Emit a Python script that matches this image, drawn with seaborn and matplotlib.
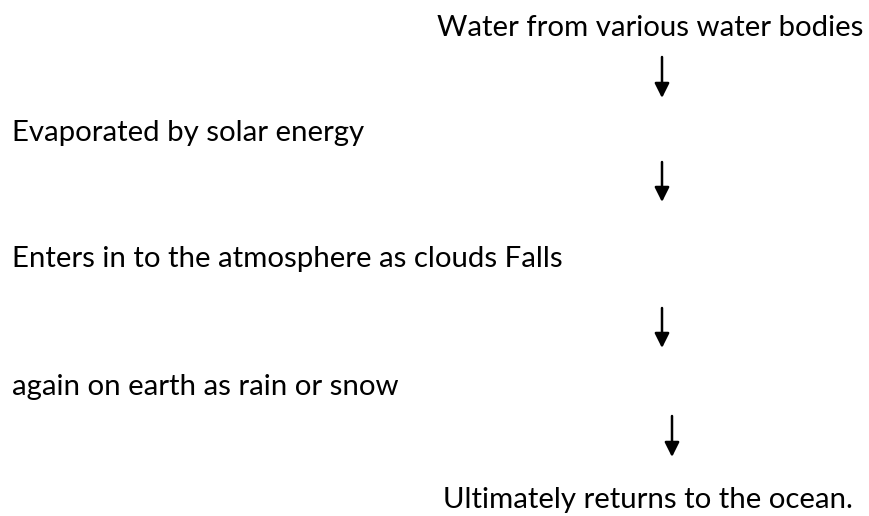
import matplotlib
matplotlib.use('Agg')
import matplotlib.pyplot as plt
import seaborn as sns

# Steps of the water cycle, top to bottom
steps = [
    'Water from various water bodies',
    'Evaporated by solar energy',
    'Enters in to the atmosphere as clouds Falls',
    'again on earth as rain or snow',
    'Ultimately returns to the ocean.',
]

# layout (pixels): left edge and baseline of each line
step_x = [437, 12, 12, 12, 443]
step_y = [36, 141, 267, 395, 508]
# arrows between steps: x, top, tip
arrow_x = [662, 662, 662, 672]
arrow_top = [57, 162, 308, 416]
arrow_bot = [98, 202, 348, 457]

sns.set_theme(style='white')
plt.rcParams['font.family'] = ['Lato', 'DejaVu Sans']

fig = plt.figure(figsize=(8.69, 5.16), dpi=100)
ax = fig.add_axes([0, 0, 1, 1])
ax.set_xlim(0, 869)
ax.set_ylim(516, 0)
ax.axis('off')

for txt, x, y in zip(steps, step_x, step_y):
    ax.text(x, y, txt, fontsize=21.2, color='black', ha='left', va='baseline')

for x, t, b in zip(arrow_x, arrow_top, arrow_bot):
    ax.annotate('', xy=(x, b), xytext=(x, t),
                arrowprops=dict(arrowstyle='-|>', color='black', lw=1.8,
                                mutation_scale=22, shrinkA=0, shrinkB=0))

fig.savefig('out.png', dpi=100, facecolor='white')
